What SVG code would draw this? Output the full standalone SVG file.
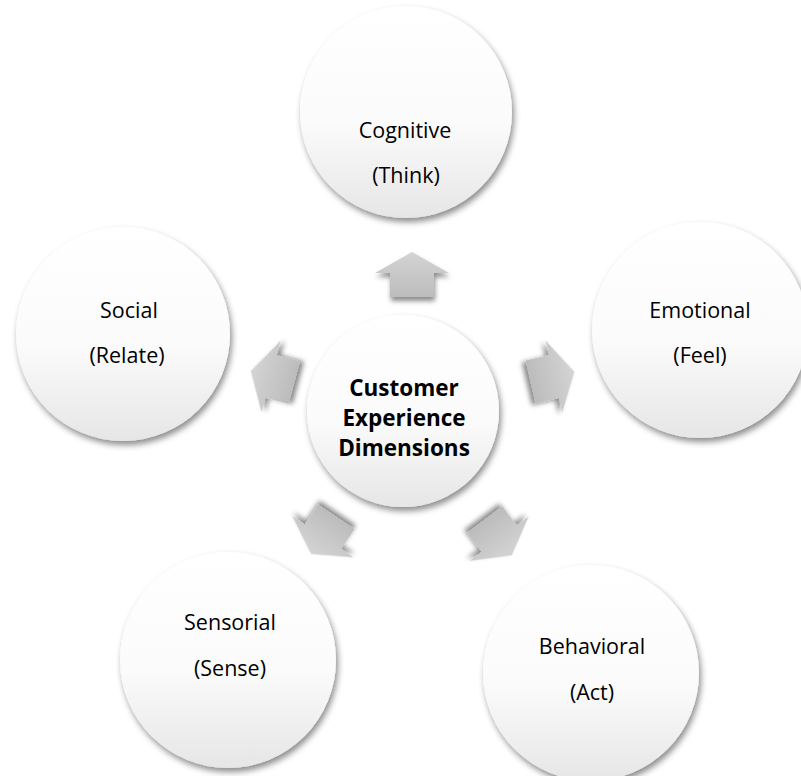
<svg xmlns="http://www.w3.org/2000/svg" width="801" height="776" viewBox="0 0 801 776">
<defs>
<linearGradient id="cg" x1="0" y1="0" x2="0" y2="1">
<stop offset="0" stop-color="#ffffff"/>
<stop offset="0.55" stop-color="#fbfbfb"/>
<stop offset="1" stop-color="#e6e6e6"/>
</linearGradient>
<linearGradient id="ag" x1="0" y1="0" x2="0" y2="1">
<stop offset="0" stop-color="#d4d4d4"/>
<stop offset="1" stop-color="#bcbcbc"/>
</linearGradient>
<filter id="sh" x="-20%" y="-20%" width="140%" height="140%">
<feDropShadow dx="2" dy="4" stdDeviation="3" flood-color="#000" flood-opacity="0.45"/>
</filter>
<filter id="ash" x="-40%" y="-40%" width="180%" height="180%">
<feDropShadow dx="1" dy="4" stdDeviation="2.5" flood-color="#000" flood-opacity="0.45"/>
</filter>
<path id="arrow" d="M0,-23 L37,-2 L22,-2 L22,22 L-22,22 L-22,-2 L-37,-2 Z"/>
</defs>
<style>
.c{fill:url(#cg);filter:url(#sh)}
.a{fill:url(#ag);filter:url(#ash)}
.t{font-family:"Open Sans","Noto Sans","Liberation Sans",sans-serif;font-size:21.5px;fill:#000;text-anchor:middle}
.b{font-family:"Open Sans","Noto Sans","Liberation Sans",sans-serif;font-size:22.5px;font-weight:bold;fill:#000;text-anchor:middle}
</style>
<rect width="801" height="776" fill="#ffffff"/>
<g id="connectors">
<use href="#arrow" class="a" transform="translate(412,275)"/>
<use href="#arrow" class="a" transform="translate(273,377) rotate(-75)"/>
<use href="#arrow" class="a" transform="translate(552,377) rotate(77)"/>
<use href="#arrow" class="a" transform="translate(324,535) rotate(-146)"/>
<use href="#arrow" class="a" transform="translate(498,537) rotate(143)"/>
</g>
<g id="cognitive">
<circle class="c" cx="406" cy="112" r="106"/>
<text class="t" x="405" y="138">Cognitive</text>
<text class="t" x="406" y="183">(Think)</text>
</g>
<g id="social">
<circle class="c" cx="123" cy="334" r="107"/>
<text class="t" x="129" y="318">Social</text>
<text class="t" x="127" y="363">(Relate)</text>
</g>
<g id="emotional">
<circle class="c" cx="700" cy="330" r="108"/>
<text class="t" x="700" y="318">Emotional</text>
<text class="t" x="700" y="363">(Feel)</text>
</g>
<g id="center">
<circle class="c" cx="403" cy="411" r="96"/>
<text class="b" x="404" y="396">Customer</text>
<text class="b" x="404" y="426">Experience</text>
<text class="b" x="404" y="456">Dimensions</text>
</g>
<g id="sensorial">
<circle class="c" cx="228" cy="660" r="108"/>
<text class="t" x="230" y="630">Sensorial</text>
<text class="t" x="230" y="676">(Sense)</text>
</g>
<g id="behavioral">
<circle class="c" cx="591" cy="673" r="108"/>
<text class="t" x="592" y="654">Behavioral</text>
<text class="t" x="592" y="700">(Act)</text>
</g>
</svg>
